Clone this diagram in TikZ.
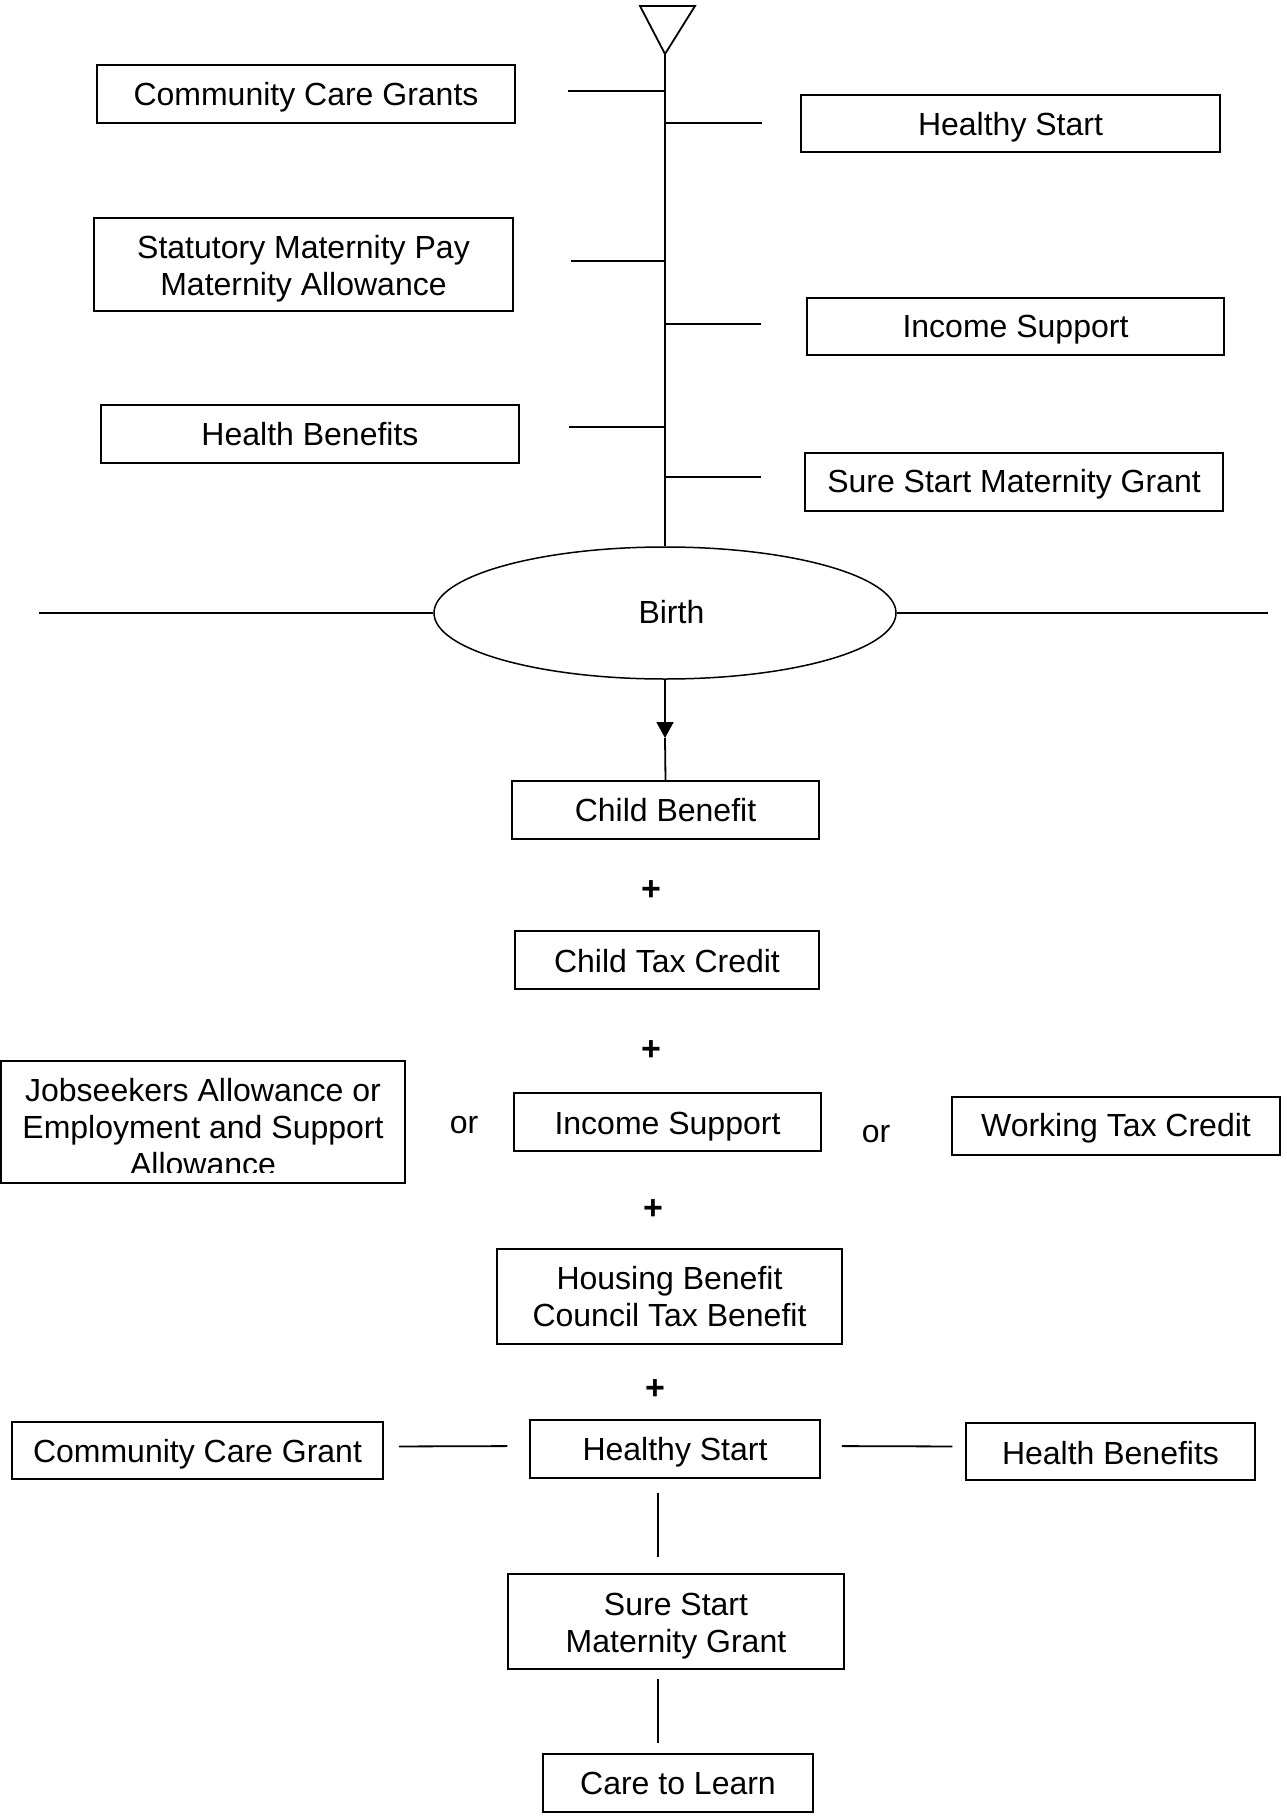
\documentclass[tikz,border=0pt]{standalone}
\usepackage{fontspec}
\setmainfont{Liberation Sans}
\usetikzlibrary{arrows.meta,shapes.geometric}
\begin{document}
\begin{tikzpicture}[x=0.5pt,y=-0.5pt,
  font=\fontsize{16pt}{18.5pt}\selectfont,
  bx/.style={draw,line width=0.75pt,rectangle,inner sep=0pt},
  ln/.style={line width=0.9pt},
  lbl/.style={inner sep=0pt,align=center},
  plus/.style={inner sep=0pt,font=\fontsize{17pt}{18pt}\selectfont\bfseries}]
\useasboundingbox[fill=white] (0,0) rectangle (1286,1820);

% top boxes
\node[bx,minimum width=209pt,minimum height=29pt,
  label={[lbl,name=ccgAt,yshift=-1.75pt]center:{Community Care Grants}}] (ccgA) at (306,94) {};
\node[bx,minimum width=209.5pt,minimum height=28.5pt,
  label={[lbl,name=hsAt,yshift=-1.75pt]center:{Healthy Start}}] (hsA) at (1010.5,123.5) {};
\node[bx,minimum width=209.5pt,minimum height=46.5pt,
  label={[lbl,name=smpt,yshift=-2.3pt]center:{Statutory Maternity Pay\\Maternity Allowance}}] (smp) at (303.5,264.5) {};
\node[bx,minimum width=208.5pt,minimum height=28.5pt,
  label={[lbl,name=isAt,yshift=-1.75pt]center:{Income Support}}] (isA) at (1015.5,326.5) {};
\node[bx,minimum width=209pt,minimum height=29pt,
  label={[lbl,name=hbAt]center:{Health Benefits}}] (hbA) at (310,434) {};
\node[bx,minimum width=209pt,minimum height=29pt,
  label={[lbl,name=ssAt,yshift=-1.15pt]center:{Sure Start Maternity Grant}}] (ssA) at (1014,482) {};

% birth
\node[draw,ellipse,line width=0.75pt,minimum width=231pt,minimum height=66pt,inner sep=0pt,
  label={[lbl,name=birtht,xshift=3.2pt,yshift=0.6pt]center:{Birth}}] (birth) at (665,613) {};

% spine
\coordinate (apex) at (665,54);
\draw[ln] (640,6) -- (695,6) -- (apex) -- cycle;
\draw[ln] (apex) -- (birth.north);

\coordinate (sL1) at (665,91);  \coordinate (eL1) at (568,91);
\coordinate (sR1) at (665,123); \coordinate (eR1) at (762,123);
\coordinate (sL2) at (665,261); \coordinate (eL2) at (571,261);
\coordinate (sR2) at (665,324); \coordinate (eR2) at (761,324);
\coordinate (sL3) at (665,427); \coordinate (eL3) at (569,427);
\coordinate (sR3) at (665,477); \coordinate (eR3) at (761,477);
\draw[ln] (sL1) -- (eL1);
\draw[ln] (sR1) -- (eR1);
\draw[ln] (sL2) -- (eL2);
\draw[ln] (sR2) -- (eR2);
\draw[ln] (sL3) -- (eL3);
\draw[ln] (sR3) -- (eR3);

% horizontal line through birth
\coordinate (hL) at (39,613);
\coordinate (hR) at (1268,613);
\draw[ln] (birth.west) -- (hL);
\draw[ln] (birth.east) -- (hR);

% lower column
\node[bx,minimum width=153.5pt,minimum height=29pt,
  label={[lbl,name=cbt]center:{Child Benefit}}] (cb) at (665.5,810) {};
\node[bx,minimum width=152pt,minimum height=29pt,
  label={[lbl,name=ctct,yshift=-0.6pt]center:{Child Tax Credit}}] (ctc) at (667,960) {};
\node[bx,minimum width=153.5pt,minimum height=29pt,
  label={[lbl,name=isBt,yshift=-2.3pt]center:{Income Support}}] (isB) at (667.5,1122) {};
\node[bx,minimum width=164pt,minimum height=29pt,
  label={[lbl,name=wtct,yshift=-1.15pt]center:{Working Tax Credit}}] (wtc) at (1116,1126) {};
\node[bx,minimum width=202pt,minimum height=61pt] (jsa) at (203,1122) {};
\begin{scope}
  \clip (2,1063) rectangle (404,1172);
  \node[lbl] (jsatxt) at (203,1127) {Jobseekers Allowance or\\Employment and Support\\Allowance};
\end{scope}
\node[lbl] (orA) at (464,1125) {or};
\node[lbl] (orB) at (876,1134) {or};
\node[bx,minimum width=172.5pt,minimum height=47.5pt,
  label={[lbl,name=hbctbt]center:{Housing Benefit\\Council Tax Benefit}}] (hbctb) at (669.5,1296.5) {};
\node[bx,minimum width=145pt,minimum height=29pt,
  label={[lbl,name=hsBt,yshift=-1.75pt]center:{Healthy Start}}] (hsB) at (675,1449) {};
\node[bx,minimum width=185.5pt,minimum height=28.5pt,
  label={[lbl,name=ccgBt,yshift=-1.75pt]center:{Community Care Grant}}] (ccgB) at (197.5,1450.5) {};
\node[bx,minimum width=144.5pt,minimum height=28.5pt,
  label={[lbl,name=hbBt,yshift=-0.6pt]center:{Health Benefits}}] (hbB) at (1110.5,1451.5) {};
\node[bx,minimum width=168pt,minimum height=47.5pt,
  label={[lbl,name=ssBt,yshift=-2.3pt]center:{Sure Start\\Maternity Grant}}] (ssB) at (676,1621.5) {};
\node[bx,minimum width=135pt,minimum height=29pt,
  label={[lbl,name=ctlt]center:{Care to Learn}}] (ctl) at (678,1783) {};

% plus signs
\node[plus] (p1) at (651,891) {+};
\node[plus] (p2) at (651,1051) {+};
\node[plus] (p3) at (653,1210) {+};
\node[plus] (p4) at (655,1390) {+};

% arrow birth -> child benefit
\coordinate (tip) at (665,738);
\draw[ln,-{Triangle[width=8.5pt,length=8pt]}] (birth.south) -- (tip);
\draw[ln] (tip) -- (cb.north);

% bottom connectors
\draw[ln,shorten <=7.5pt,shorten >=11pt] ([yshift=2pt]ccgB.east) -- ([yshift=1.5pt]hsB.west);
\draw[ln,shorten <=10.5pt,shorten >=6.5pt] ([yshift=1.5pt]hsB.east) -- ([yshift=2.5pt]hbB.west);
\draw[ln,shorten <=7pt,shorten >=8pt] ([xshift=-8.5pt]hsB.south) -- ([xshift=-9pt]ssB.north);
\draw[ln,shorten <=4.5pt,shorten >=5pt] ([xshift=-9pt]ssB.south) -- ([xshift=-10pt]ctl.north);
\end{tikzpicture}
\end{document}
